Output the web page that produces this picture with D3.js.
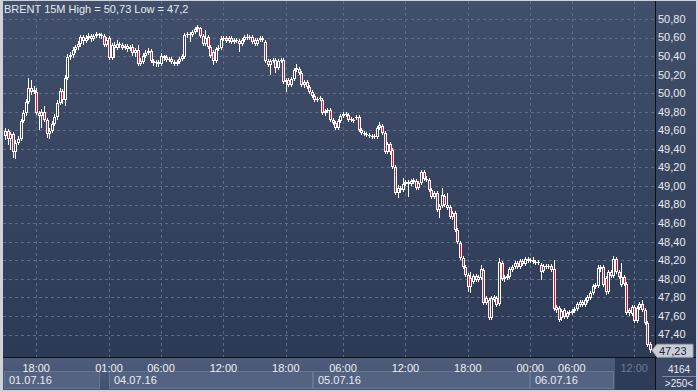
<!DOCTYPE html>
<html><head><meta charset="utf-8">
<script src="https://cdn.jsdelivr.net/npm/d3@7"></script>
<style>html,body{margin:0;padding:0;background:#d4d4d4;}svg{display:block;}</style>
</head><body>
<script>
// ---- DATA (15-minute candles, BRENT) ----
const opens = [49.54,49.59,49.51,49.56,49.37,49.46,49.51,49.70,49.79,49.91,50.06,50.01,50.01,49.79,49.75,49.80,49.71,49.56,49.59,49.67,49.74,49.89,50.02,49.93,50.16,50.39,50.41,50.47,50.50,50.53,
50.61,50.56,50.60,50.62,50.58,50.62,50.64,50.63,50.62,50.52,50.60,50.38,50.52,50.49,50.53,50.52,50.49,50.51,50.48,50.50,
50.43,50.47,50.32,50.34,50.40,50.43,50.46,50.35,50.33,50.34,50.32,50.40,50.39,50.36,50.37,50.34,50.32,50.34,50.37,50.39,
50.63,50.64,50.63,50.66,50.69,50.70,50.62,50.53,50.61,50.50,50.44,50.35,50.48,50.49,50.58,50.60,50.56,50.60,50.55,50.57,
50.56,50.53,50.57,50.61,50.60,50.61,50.57,50.53,50.57,50.60,50.55,50.35,50.30,50.35,50.36,50.27,50.35,50.36,50.12,50.14,
50.09,50.15,50.25,50.26,50.22,50.09,50.12,50.07,50.01,49.97,49.93,49.94,49.93,49.79,49.81,49.82,49.71,49.68,49.63,49.70,
49.75,49.78,49.77,49.71,49.70,49.73,49.74,49.60,49.57,49.56,49.55,49.54,49.53,49.53,49.63,49.65,49.57,49.37,49.45,49.39,
49.20,48.93,48.98,48.96,49.02,49.04,49.02,49.04,49.05,48.98,49.03,49.15,49.08,49.07,48.96,48.88,48.93,48.74,48.78,48.89,
48.76,48.77,48.67,48.71,48.53,48.39,48.22,48.13,48.04,47.91,47.97,48.03,47.99,48.01,48.09,47.74,47.77,47.58,47.77,47.79,
47.73,48.17,48.00,48.01,48.02,48.09,48.13,48.17,48.13,48.19,48.16,48.21,48.19,48.20,48.18,48.17,48.15,48.08,48.14,48.13,
48.14,48.11,47.66,47.69,47.58,47.66,47.59,47.63,47.63,47.65,47.68,47.72,47.75,47.72,47.76,47.79,47.85,47.91,47.92,48.11,
48.13,48.01,47.86,48.07,48.03,48.21,48.07,47.93,48.02,47.94,47.63,47.62,47.70,47.55,47.69,47.73,47.66,47.52,47.30];
const highs = [49.63,49.61,49.58,49.58,49.50,49.54,49.72,49.82,49.94,50.16,50.14,50.08,50.06,49.81,49.83,49.86,49.73,49.63,49.70,49.78,49.93,50.06,50.05,50.20,50.42,50.44,50.50,50.52,50.56,50.63,
50.63,50.63,50.65,50.64,50.64,50.66,50.65,50.65,50.64,50.61,50.62,50.54,50.55,50.57,50.55,50.54,50.53,50.53,50.52,50.53,
50.49,50.52,50.38,50.43,50.47,50.49,50.48,50.37,50.36,50.36,50.43,50.41,50.41,50.39,50.39,50.36,50.36,50.39,50.42,50.65,
50.66,50.66,50.68,50.71,50.73,50.71,50.64,50.68,50.63,50.52,50.47,50.50,50.52,50.62,50.62,50.62,50.62,50.62,50.60,50.60,
50.58,50.60,50.63,50.64,50.63,50.63,50.60,50.60,50.62,50.62,50.57,50.37,50.37,50.38,50.38,50.37,50.38,50.38,50.16,50.16,
50.18,50.27,50.32,50.28,50.24,50.14,50.14,50.09,50.03,49.99,49.96,49.97,49.95,49.83,49.84,49.84,49.73,49.70,49.72,49.78,
49.80,49.80,49.79,49.74,49.73,49.77,49.77,49.63,49.59,49.58,49.57,49.56,49.56,49.65,49.69,49.67,49.59,49.47,49.47,49.41,
49.23,49.01,49.00,49.09,49.07,49.07,49.08,49.09,49.08,49.05,49.17,49.17,49.11,49.09,48.98,48.95,48.95,48.81,48.98,48.91,
48.93,48.80,48.73,48.73,48.55,48.41,48.25,48.15,48.06,48.07,48.05,48.05,48.04,48.15,48.12,47.82,47.79,47.82,47.83,47.82,
48.22,48.19,48.04,48.05,48.13,48.15,48.19,48.19,48.21,48.21,48.24,48.24,48.22,48.24,48.20,48.20,48.17,48.16,48.16,48.16,
48.16,48.20,47.72,47.71,47.68,47.69,47.65,47.66,47.68,47.70,47.75,47.77,47.77,47.79,47.83,47.87,47.94,47.96,48.15,48.15,
48.15,48.03,48.09,48.09,48.25,48.24,48.09,48.17,48.04,47.97,47.69,47.72,47.72,47.71,47.75,47.77,47.69,47.55,47.32];
const lows = [49.50,49.44,49.39,49.30,49.29,49.44,49.49,49.68,49.75,49.88,49.98,49.99,49.77,49.60,49.63,49.69,49.52,49.51,49.57,49.65,49.71,49.87,49.88,49.86,50.14,50.36,50.38,50.43,50.47,50.50,
50.52,50.54,50.57,50.55,50.56,50.60,50.60,50.58,50.50,50.50,50.36,50.36,50.38,50.47,50.49,50.47,50.47,50.44,50.46,50.40,
50.39,50.29,50.29,50.32,50.38,50.41,50.33,50.29,50.28,50.28,50.29,50.35,50.34,50.34,50.32,50.29,50.29,50.32,50.35,50.37,
50.60,50.55,50.61,50.64,50.66,50.60,50.51,50.51,50.48,50.38,50.30,50.33,50.46,50.47,50.56,50.54,50.54,50.53,50.53,50.54,
50.44,50.51,50.55,50.57,50.57,50.53,50.51,50.51,50.55,50.55,50.33,50.28,50.20,50.33,50.22,50.25,50.33,50.10,50.01,50.07,
50.07,50.13,50.23,50.20,50.07,50.06,50.05,49.99,49.95,49.91,49.91,49.92,49.77,49.75,49.79,49.69,49.66,49.60,49.60,49.68,
49.73,49.74,49.69,49.69,49.68,49.71,49.58,49.55,49.54,49.53,49.52,49.51,49.51,49.51,49.60,49.55,49.35,49.35,49.33,49.18,
48.90,48.87,48.93,48.94,49.00,48.88,49.00,49.02,48.96,48.96,49.01,49.05,49.04,48.94,48.86,48.86,48.72,48.66,48.76,48.77,
48.74,48.65,48.63,48.50,48.38,48.20,48.11,48.02,47.86,47.85,47.94,47.97,47.97,47.99,47.72,47.72,47.56,47.56,47.75,47.70,
47.71,47.98,47.97,47.99,48.00,48.07,48.11,48.11,48.11,48.14,48.14,48.17,48.17,48.16,48.15,48.15,47.99,48.06,48.11,48.11,
48.07,47.65,47.63,47.53,47.55,47.57,47.57,47.61,47.61,47.63,47.65,47.70,47.70,47.70,47.74,47.77,47.83,47.89,47.90,48.07,
47.91,47.83,47.84,48.01,48.01,48.05,48.00,47.91,47.92,47.61,47.60,47.60,47.52,47.52,47.66,47.64,47.50,47.27,47.20];
const closes = [49.59,49.51,49.56,49.37,49.46,49.51,49.70,49.79,49.91,50.06,50.01,50.03,49.79,49.75,49.80,49.71,49.56,49.59,49.67,49.74,49.89,50.02,49.93,50.16,50.39,50.41,50.47,50.50,50.53,50.61,
50.56,50.60,50.62,50.58,50.62,50.64,50.63,50.62,50.52,50.57,50.38,50.52,50.49,50.53,50.52,50.49,50.51,50.48,50.50,50.43,
50.47,50.32,50.35,50.40,50.43,50.46,50.35,50.33,50.34,50.32,50.40,50.38,50.36,50.37,50.34,50.32,50.34,50.37,50.40,50.63,
50.64,50.63,50.66,50.69,50.71,50.62,50.53,50.60,50.50,50.40,50.35,50.48,50.49,50.58,50.60,50.56,50.60,50.55,50.57,50.56,
50.53,50.57,50.61,50.60,50.61,50.55,50.53,50.57,50.60,50.57,50.35,50.30,50.35,50.36,50.27,50.35,50.36,50.12,50.14,50.09,
50.15,50.25,50.27,50.22,50.09,50.12,50.07,50.01,49.97,49.93,49.94,49.95,49.79,49.81,49.82,49.71,49.68,49.63,49.70,49.75,
49.78,49.77,49.71,49.72,49.71,49.74,49.60,49.57,49.56,49.55,49.54,49.53,49.54,49.63,49.66,49.57,49.37,49.45,49.37,49.20,
48.93,48.98,48.96,49.02,49.04,49.02,49.05,49.07,48.98,49.03,49.15,49.08,49.07,48.96,48.88,48.93,48.74,48.78,48.90,48.80,
48.80,48.67,48.71,48.53,48.40,48.22,48.13,48.04,47.91,48.01,48.03,47.99,48.02,48.11,47.74,47.79,47.58,47.79,47.80,47.72,
48.18,48.00,48.02,48.03,48.11,48.13,48.17,48.13,48.19,48.16,48.21,48.19,48.20,48.18,48.17,48.18,48.07,48.14,48.13,48.14,
48.09,47.68,47.70,47.56,47.65,47.59,47.63,47.64,47.65,47.68,47.73,47.75,47.72,47.77,47.80,47.85,47.92,47.93,48.12,48.13,
47.93,47.86,48.07,48.03,48.21,48.07,48.02,48.02,47.94,47.63,47.66,47.70,47.55,47.69,47.73,47.66,47.52,47.29,47.23];

const priceTicks = [50.8,50.6,50.4,50.2,50.0,49.8,49.6,49.4,49.2,49.0,48.8,48.6,48.4,48.2,48.0,47.8,47.6,47.4];
const timeTickIdx = [12,40,60,84,108,130,154,178,202,218,242];
const timeTickLabels = ["18:00","01:00","06:00","12:00","18:00","06:00","12:00","18:00","00:00","06:00","12:00"];
const dateLabels = ["01.07.16","04.07.16","05.07.16","06.07.16"];
const dateStartIdx = [-0.8, 40, 118.5, 202];
const dateEndIdx = [36.5, 118.5, 202, 234.3];
const titleText = "BRENT 15M High = 50,73 Low = 47,2";
const lastPrice = 47.23;
const cornerTop = "4164", cornerBottom = ">250<";

// ---- LAYOUT ----
const W = 698, H = 392;
const plot = {x0: 3, x1: 655, y0: 1, y1: 357};
const svg = d3.select("body").append("svg").attr("width", W).attr("height", H)
  .style("font-family", "'Liberation Sans', Arial, sans-serif");

const defs = svg.append("defs");
const g1 = defs.append("linearGradient").attr("id","bgGrad").attr("x1",0).attr("y1",0).attr("x2",0).attr("y2",1);
g1.append("stop").attr("offset","0%").attr("stop-color","#414f6b");
g1.append("stop").attr("offset","100%").attr("stop-color","#2c3a55");
const g2 = defs.append("linearGradient").attr("id","axGrad").attr("x1",0).attr("y1",0).attr("x2",0).attr("y2",1);
g2.append("stop").attr("offset","0%").attr("stop-color","#4f5d7b");
g2.append("stop").attr("offset","100%").attr("stop-color","#435170");

// frame
svg.append("rect").attr("x",0).attr("y",0).attr("width",W).attr("height",H).attr("fill","#cfd2d8");
svg.append("rect").attr("x",plot.x0).attr("y",plot.y0).attr("width",696-plot.x0).attr("height",plot.y1-plot.y0).attr("fill","url(#bgGrad)");
svg.append("rect").attr("x",plot.x0).attr("y",plot.y1).attr("width",696-plot.x0).attr("height",390-plot.y1).attr("fill","url(#axGrad)");

const x = d3.scaleLinear().domain([0, 248]).range([5, 649.8]);
const y = d3.scaleLinear().domain([47.4, 50.8]).range([334.5, 19]);

// grid
const grid = svg.append("g");
priceTicks.forEach(p => {
  const yy = Math.round(y(p)) + 0.5;
  grid.append("line").attr("x1",plot.x0).attr("x2",plot.x1).attr("y1",yy).attr("y2",yy)
    .attr("stroke","#5d6c8a").attr("stroke-dasharray","3,3").attr("stroke-width",1);
});
timeTickIdx.forEach(i => {
  const xx = Math.round(x(i)) + 0.5;
  grid.append("line").attr("x1",xx).attr("x2",xx).attr("y1",plot.y0).attr("y2",plot.y1)
    .attr("stroke","#5d6c8a").attr("stroke-dasharray","3,3").attr("stroke-width",1);
});

// title
svg.append("text").attr("x",4).attr("y",13).attr("fill","#e6e9ef").attr("font-size",11).text(titleText);

// candles
const data = closes.map((c, i) => ({i, o: opens[i], h: highs[i], l: lows[i], c}));
const cg = svg.append("g");
data.forEach(d => {
  const cx = Math.round(x(d.i));
  const top = Math.round(y(Math.max(d.o, d.c)));
  let bot = Math.round(y(Math.min(d.o, d.c)));
  if (bot - top < 1) bot = top + 1;
  const hy = Math.round(y(d.h)), ly = Math.round(y(d.l));
  const wx = cx + 0.5;
  if (hy < top) cg.append("line").attr("x1",wx).attr("x2",wx).attr("y1",hy).attr("y2",top).attr("stroke","#ffffff");
  if (ly > bot) cg.append("line").attr("x1",wx).attr("x2",wx).attr("y1",bot).attr("y2",ly).attr("stroke","#ffffff");
  const down = d.c < d.o;
  cg.append("rect").attr("x",cx-0.5).attr("y",top+0.5).attr("width",2).attr("height",Math.max(bot-top-1,0.01))
    .attr("fill", down ? "#e8102c" : "#33415d").attr("stroke","#ffffff").attr("stroke-width",1);
});

// separators
svg.append("line").attr("x1",plot.x1+0.5).attr("x2",plot.x1+0.5).attr("y1",plot.y0).attr("y2",390).attr("stroke","#0c0f16");
svg.append("line").attr("x1",plot.x0).attr("x2",696).attr("y1",plot.y1+0.5).attr("y2",plot.y1+0.5).attr("stroke","#0c0f16");

// right axis
const ra = svg.append("g");
priceTicks.forEach(p => {
  ra.append("text").attr("x",658).attr("y",y(p)).attr("dy","0.35em").attr("fill","#e8ebf0").attr("font-size",11)
    .text(d3.format(".2f")(p).replace(".", ","));
});

// last price tag
const ly0 = y(lastPrice);
ra.append("path").attr("d",`M652,${ly0} L657,${ly0-6} L693,${ly0-6} L693,${ly0+7} L657,${ly0+7} Z`)
  .attr("fill","#c9cdd5").attr("stroke","#9aa2b2");
ra.append("text").attr("x",659).attr("y",ly0).attr("dy","0.4em").attr("fill","#1d2740").attr("font-size",11)
  .text(d3.format(".2f")(lastPrice).replace(".", ","));

// bottom axis: date boxes
const ba = svg.append("g");
dateLabels.forEach((lab, k) => {
  const xa = Math.max(plot.x0 + 1, Math.round(x(dateStartIdx[k])));
  const xb = Math.round(x(dateEndIdx[k]));
  ba.append("rect").attr("x",xa+0.5).attr("y",371.5).attr("width",xb-xa-1).attr("height",17)
    .attr("fill","#556383").attr("stroke","#67758f");
  ba.append("text").attr("x",xa+5).attr("y",380).attr("dy","0.35em").attr("fill","#e8ebf0").attr("font-size",11).text(lab);
});
// current session box
ba.append("rect").attr("x",615).attr("y",358).attr("width",40).attr("height",32).attr("fill","#2f3c58");
timeTickIdx.forEach((i, k) => {
  const last = k === timeTickIdx.length - 1;
  ba.append("text").attr("x",x(i)).attr("y",368).attr("dy","0.35em").attr("text-anchor","middle")
    .attr("fill", last ? "#6d7a94" : "#eef0f4").attr("font-size",11).text(timeTickLabels[k]);
});

// corner
svg.append("rect").attr("x",656).attr("y",358).attr("width",40).attr("height",32).attr("fill","#3b4966");
svg.append("text").attr("x",679).attr("y",369).attr("dy","0.35em").attr("text-anchor","middle").attr("fill","#e8ebf0").attr("font-size",10).text(cornerTop);
svg.append("line").attr("x1",662).attr("x2",696).attr("y1",376.5).attr("y2",376.5).attr("stroke","#7c88a0");
svg.append("text").attr("x",679).attr("y",383).attr("dy","0.35em").attr("text-anchor","middle").attr("fill","#e8ebf0").attr("font-size",10).text(cornerBottom);
</script>
</body></html>
